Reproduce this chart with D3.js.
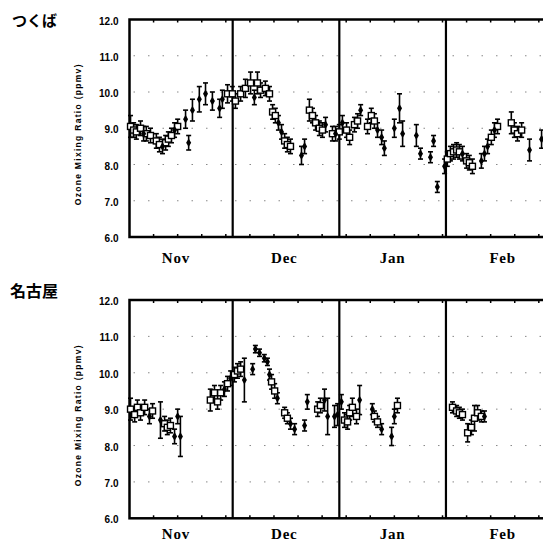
<!DOCTYPE html>
<html><head><meta charset="utf-8">
<script src="https://cdn.jsdelivr.net/npm/d3@7"></script>
<style>body{margin:0;background:#fff}</style>
</head><body><svg id="c" width="543" height="542"></svg>
<script>
// ---- data (days since Nov 1) ----
const yTicks = [6, 7, 8, 9, 10, 11, 12];
const yTickLabels = ["6.0", "7.0", "8.0", "9.0", "10.0", "11.0", "12.0"];
const gridValues = [7, 8, 9, 10, 11];
const months = ["Nov", "Dec", "Jan", "Feb"];
const monthStartDay = [30, 61, 92];
const monthLabelDay = [13.5, 45, 76.5, 108.5];
const stations = ["つくば", "名古屋"];

const tsukubaDay = [0.3,1.2,2.0,3.2,4.1,4.9,6.1,7.8,8.7,9.6,10.5,11.3,12.2,13.1,14.0,16.3,17.2,18.3,20.3,22.1,24.1,26.2,27.0,28.5,
  29.9,30.8,32.3,33.7,35.2,36.3,37.2,38.1,39.5,40.7,41.6,42.4,43.3,44.2,45.1,45.9,46.8,50.0,50.9,52.3,53.2,54.1,55.2,56.1,57.0,59.0,59.9,
  61.0,61.9,63.1,64.0,65.4,66.3,67.2,69.2,70.3,71.2,72.1,73.3,74.1,77.0,78.5,79.4,83.4,84.6,87.5,88.4,89.5,91.6,
  92.4,93.3,94.2,95.1,95.9,96.8,98.0,98.8,99.7,102.3,103.2,104.1,105.2,106.1,107.0,111.0,111.9,112.8,114.0,116.3,119.8];
const tsukubaVal = [9.05,8.95,8.9,9.0,8.85,8.85,8.8,8.65,8.55,8.5,8.6,8.7,8.8,8.95,9.05,9.25,8.6,9.5,9.8,9.95,9.75,9.55,9.8,9.95,
  9.95,9.75,9.95,10.1,10.25,9.85,10.25,10.05,10.1,9.95,9.45,9.35,9.15,8.9,8.65,8.55,8.5,8.25,8.5,9.5,9.35,9.15,9.0,8.95,9.1,8.85,8.85,
  8.9,9.15,8.95,8.75,9.1,9.2,9.5,9.05,9.35,9.2,8.95,8.75,8.45,9.0,9.55,8.85,8.8,8.3,8.2,8.65,7.38,7.95,
  8.15,8.3,8.35,8.4,8.35,8.3,8.1,8.05,7.95,8.1,8.3,8.5,8.75,8.95,9.05,9.15,8.95,8.85,8.95,8.4,8.7];
const tsukubaErr = [0.3,0.2,0.2,0.2,0.2,0.2,0.2,0.2,0.2,0.2,0.2,0.2,0.2,0.2,0.2,0.25,0.2,0.3,0.35,0.3,0.25,0.25,0.25,0.25,
  0.2,0.2,0.2,0.25,0.3,0.2,0.3,0.2,0.2,0.2,0.2,0.2,0.2,0.2,0.2,0.2,0.2,0.25,0.2,0.3,0.2,0.2,0.2,0.2,0.2,0.2,0.2,
  0.2,0.2,0.2,0.2,0.2,0.2,0.15,0.2,0.2,0.2,0.2,0.2,0.2,0.25,0.4,0.35,0.3,0.15,0.15,0.15,0.15,0.2,
  0.2,0.2,0.2,0.2,0.2,0.2,0.2,0.2,0.2,0.2,0.2,0.2,0.2,0.2,0.2,0.3,0.2,0.2,0.2,0.3,0.25];
const tsukubaBox = [1,1,1,1,0,1,1,1,1,0,1,1,1,0,1,0,0,0,0,0,0,0,0,1,
  1,1,1,1,1,0,1,1,1,1,1,1,0,0,1,1,1,0,0,1,1,1,1,1,0,1,0,
  1,0,1,1,1,1,0,1,1,1,0,0,0,0,0,0,0,0,0,0,0,0,
  1,1,1,1,1,0,1,1,1,0,0,0,1,0,1,1,1,1,1,0,0];

const nagoyaDay = [0.3,1.5,2.3,3.2,4.4,5.8,6.7,9.0,10.2,11.0,11.9,13.1,14.0,14.8,23.5,24.7,25.6,26.5,27.6,28.5,29.4,
  30.5,31.4,32.3,33.4,35.8,36.6,37.8,39.2,40.1,40.7,41.3,42.2,43.0,45.1,45.9,46.8,48.0,50.9,51.7,54.7,55.5,56.7,57.6,59.6,
  60.5,61.6,62.5,63.4,64.0,64.8,66.0,66.9,70.6,71.2,72.1,73.3,76.2,77.0,77.9,
  93.9,95.1,95.9,96.8,98.3,99.4,100.3,101.2,102.3,103.2];
const nagoyaVal = [9.0,8.85,9.05,8.9,9.05,8.8,8.95,8.7,8.6,8.5,8.55,8.25,8.8,8.25,9.25,9.45,9.2,9.45,9.55,9.7,9.85,
  9.95,10.05,10.1,9.8,10.1,10.65,10.55,10.4,10.3,9.95,9.75,9.5,9.3,8.9,8.75,8.6,8.45,8.55,9.2,9.0,9.1,9.25,8.8,8.8,
  8.85,9.2,8.7,8.65,8.9,9.05,8.8,9.25,9.0,8.8,8.65,8.45,8.25,8.8,9.1,
  9.05,8.95,8.9,8.85,8.35,8.5,8.75,8.9,8.8,8.8];
const nagoyaErr = [0.3,0.2,0.2,0.2,0.2,0.2,0.2,0.5,0.2,0.2,0.2,0.2,0.2,0.55,0.3,0.2,0.2,0.2,0.2,0.2,0.2,
  0.2,0.2,0.2,0.6,0.15,0.1,0.1,0.1,0.1,0.15,0.2,0.2,0.15,0.15,0.15,0.15,0.15,0.15,0.2,0.2,0.2,0.3,0.5,0.3,
  0.3,0.2,0.2,0.2,0.2,0.25,0.2,0.4,0.15,0.15,0.15,0.15,0.25,0.2,0.2,
  0.15,0.15,0.15,0.15,0.25,0.2,0.35,0.2,0.15,0.15];
const nagoyaBox = [1,1,1,1,1,0,1,0,1,1,1,0,0,0,1,1,1,1,0,1,0,
  1,1,1,0,0,0,0,0,0,0,1,1,0,1,1,0,0,0,0,1,1,0,0,0,
  0,0,1,1,1,1,1,0,0,1,1,0,0,0,1,
  1,1,1,1,1,1,1,1,1,0];

// ---- drawing ----
const svg = d3.select("#c");
const x = d3.scaleLinear().domain([0, 121]).range([129.5, 545.7]);

const panels = [
  {name: stations[0], top: 19.5, bottom: 237, monthY: 263, day: tsukubaDay, val: tsukubaVal, err: tsukubaErr, box: tsukubaBox, labelY: 26, labelX: 12, labelSize: 15},
  {name: stations[1], top: 300, bottom: 518.3, monthY: 539, day: nagoyaDay, val: nagoyaVal, err: nagoyaErr, box: nagoyaBox, labelY: 297, labelX: 10, labelSize: 16}
];

panels.forEach(p => {
  const y = d3.scaleLinear().domain([6, 12]).range([p.bottom, p.top]);
  const g = svg.append("g");
  const left = x.range()[0], right = x.range()[1];

  // station label
  g.append("text").attr("x", p.labelX).attr("y", p.labelY)
    .attr("font-family", "'Noto Sans CJK JP', sans-serif").attr("font-weight", "bold")
    .attr("font-size", p.labelSize).text(p.name);

  // dotted grid
  g.selectAll(".grid").data(gridValues).join("line")
    .attr("x1", left + 4).attr("x2", right).attr("y1", d => y(d)).attr("y2", d => y(d))
    .attr("stroke", "#888").attr("stroke-width", 1).attr("stroke-dasharray", "1.5,13");

  // weekly ticks on top and bottom
  const wk = d3.range(7, 121, 7);
  g.selectAll(".tt").data(wk).join("line")
    .attr("x1", d => x(d)).attr("x2", d => x(d)).attr("y1", p.top).attr("y2", p.top + 3)
    .attr("stroke", "#000").attr("stroke-width", 1.5);
  g.selectAll(".bt").data(wk).join("line")
    .attr("x1", d => x(d)).attr("x2", d => x(d)).attr("y1", p.bottom).attr("y2", p.bottom - 3)
    .attr("stroke", "#000").attr("stroke-width", 1.5);

  // frame
  g.append("rect").attr("x", left).attr("y", p.top).attr("width", right - left).attr("height", p.bottom - p.top)
    .attr("fill", "none").attr("stroke", "#000").attr("stroke-width", 2.5);

  // month boundaries
  g.selectAll(".mb").data(monthStartDay).join("line")
    .attr("x1", d => x(d)).attr("x2", d => x(d)).attr("y1", p.top).attr("y2", p.bottom)
    .attr("stroke", "#000").attr("stroke-width", 2.2);

  // y axis labels
  const ax = g.append("g").attr("transform", `translate(${left},0)`)
    .call(d3.axisLeft(y).tickValues(yTicks).tickSize(0).tickPadding(11)
      .tickFormat((d, i) => yTickLabels[i]));
  ax.select(".domain").remove();
  ax.selectAll("text").attr("font-family", "'Liberation Sans', Arial, sans-serif")
    .attr("font-weight", "bold").attr("font-size", 10).attr("fill", "#000").attr("dy", "0.45em");

  // y title
  g.append("text")
    .attr("transform", `translate(81,${(p.top + p.bottom) / 2 + 6}) rotate(-90)`)
    .attr("text-anchor", "middle")
    .attr("font-family", "'Liberation Sans', Arial, sans-serif").attr("font-weight", "bold")
    .attr("font-size", 8.5).attr("letter-spacing", 1.3).text("Ozone Mixing Ratio (ppmv)");

  // month labels
  g.selectAll(".ml").data(months).join("text")
    .attr("x", (d, i) => x(monthLabelDay[i])).attr("y", p.monthY)
    .attr("text-anchor", "middle")
    .attr("font-family", "'Liberation Serif', 'Times New Roman', serif").attr("font-weight", "bold")
    .attr("font-size", 15).attr("letter-spacing", 0.8).text(d => d);

  // data
  const pts = p.day.map((d, i) => ({d, v: p.val[i], e: p.err[i], b: p.box[i]}));
  const pg = g.append("g");
  pg.selectAll(".eb").data(pts).join("line")
    .attr("x1", d => x(d.d)).attr("x2", d => x(d.d))
    .attr("y1", d => y(d.v + d.e)).attr("y2", d => y(d.v - d.e))
    .attr("stroke", "#000").attr("stroke-width", 1.6);
  [1, -1].forEach(s => {
    pg.selectAll(".cap" + s).data(pts).join("line")
      .attr("x1", d => x(d.d) - 2.5).attr("x2", d => x(d.d) + 2.5)
      .attr("y1", d => y(d.v + s * d.e)).attr("y2", d => y(d.v + s * d.e))
      .attr("stroke", "#000").attr("stroke-width", 1.6);
  });
  pg.selectAll(".bx").data(pts.filter(d => d.b)).join("rect")
    .attr("x", d => x(d.d) - 3).attr("y", d => y(d.v) - 3).attr("width", 6).attr("height", 6)
    .attr("fill", "#fff").attr("stroke", "#000").attr("stroke-width", 1.4);
  pg.selectAll(".dt").data(pts.filter(d => !d.b)).join("path")
    .attr("d", d3.symbol(d3.symbolDiamond, 22))
    .attr("transform", d => `translate(${x(d.d)},${y(d.v)})`)
    .attr("fill", "#000");
});
</script>
</body></html>
